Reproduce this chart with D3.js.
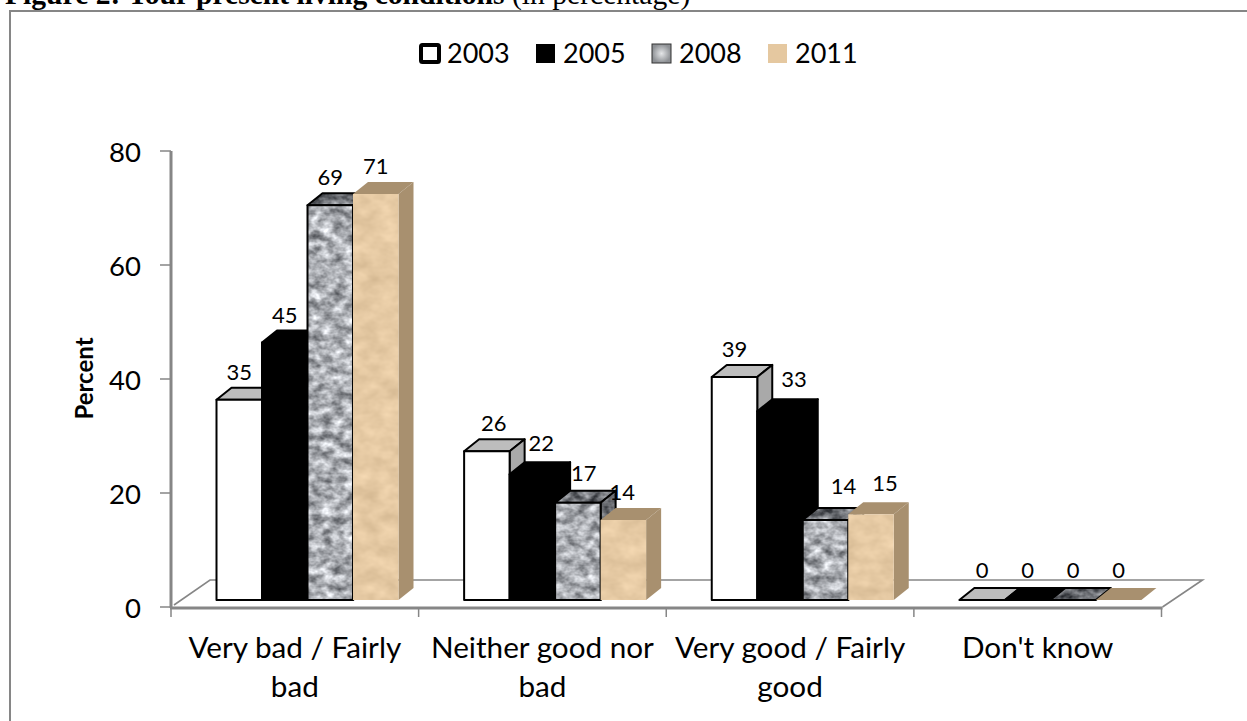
<!DOCTYPE html>
<html><head><meta charset="utf-8">
<script src="https://cdn.jsdelivr.net/npm/d3@7/dist/d3.min.js"></script>
<style>html,body{margin:0;padding:0;background:#fff;overflow:hidden}svg{display:block}text{font-family:Lato,sans-serif;fill:#000}</style>
</head><body><svg id="c" width="1247" height="721"></svg>
<script>
const categories = [["Very bad / Fairly","bad"],["Neither good nor","bad"],["Very good / Fairly","good"],["Don't know"]];
const years = ["2003","2005","2008","2011"];
const v2003 = [35,26,39,0];
const v2005 = [45,22,33,0];
const v2008 = [69,17,14,0];
const v2011 = [71,14,15,0];
const seriesValues = [v2003,v2005,v2008,v2011];
const yTicks = [0,20,40,60,80];
const labelNudgeX = [[0,0,0,0],[7,9,6,-1],[0,14,18,14],[0,0,0,0]];
const labelNudgeY = [[0,0,0,0],[0,-3,-2,0],[0,-4,-6,-3],[-2,-2,-2,-2]];

const svg = d3.select("#c");
const GREY = "#868686";
const defs = svg.append("defs");
function marble(id, a, b, rgb, freq){
  const f = defs.append("filter").attr("id",id).attr("x",0).attr("y",0).attr("width",1).attr("height",1)
    .attr("color-interpolation-filters","sRGB");
  f.append("feTurbulence").attr("type","fractalNoise").attr("baseFrequency",freq).attr("numOctaves",3).attr("seed",7);
  f.append("feColorMatrix").attr("type","matrix").attr("values",
    `${a} 0 0 0 ${b+rgb[0]}  ${a} 0 0 0 ${b+rgb[1]}  ${a} 0 0 0 ${b+rgb[2]}  0 0 0 0 1`);
  f.append("feComposite").attr("in2","SourceGraphic").attr("operator","in");
}
marble("tex",0.95,0.2,[0,0.01,0.03],"0.09 0.12");
marble("texDark",0.9,-0.03,[0,0.01,0.03],"0.09 0.12");
marble("tan",0.16,0.0,[0.82,0.71,0.56],"0.05 0.07");
const grad = defs.append("radialGradient").attr("id","legTex");
grad.append("stop").attr("offset","0").attr("stop-color","#e4e6e8");
grad.append("stop").attr("offset","1").attr("stop-color","#8d9094");

// scales
const x = d3.scaleBand().domain(d3.range(categories.length)).range([171,1161.5]);
const sub = d3.scaleBand().domain(d3.range(years.length)).range([45.5,227.5]);
const yAxis = d3.scaleLinear().domain([0,80]).range([607,151]);
const yFront = d3.scaleLinear().domain([0,80]).range([600,142.4]);
const depthX = 15, depthY = 12;

const styles = [
 {front:"#fff", top:"#bdbdbd", side:"#a9a9a9", stroke:"#000"},
 {front:"#000", top:"#000", side:"#000", stroke:"#000"},
 {front:"#a5a8ab", top:"#6f7276", side:"#6f7276", stroke:"#000", ff:"url(#tex)", fs:"url(#texDark)"},
 {front:"#e5c8a0", top:"#a8906f", side:"#a8906f", stroke:"none", ff:"url(#tan)"}
];

// floor
const floorG = svg.append("g").attr("fill","none").attr("stroke",GREY);
const x0 = x.range()[0], x1 = x.range()[1], y0 = yAxis(0);
floorG.append("path").attr("stroke-width",1.6).attr("d",d3.line()([[x0+3,y0-2],[x0+39,y0-27],[x1+41,y0-27],[x1+1,y0]]));

// frame
svg.append("path").attr("fill","none").attr("stroke",GREY).attr("stroke-width",2)
  .attr("d","M10,721V11H1247");

// axes
const axG = svg.append("g").attr("stroke",GREY).attr("fill","none");
axG.append("line").attr("x1",x0).attr("x2",x0).attr("y1",yAxis(80)).attr("y2",y0+1).attr("stroke-width",3);
axG.append("line").attr("x1",x0-1).attr("x2",x1+1).attr("y1",y0+1).attr("y2",y0+1).attr("stroke-width",3);
axG.selectAll(".yt").data(yTicks).join("line").attr("x1",x0-11).attr("x2",x0).attr("y1",d=>yAxis(d)).attr("y2",d=>yAxis(d)).attr("stroke-width",1.5);
const xTickPos = d3.range(categories.length).map(i=>x(i)).concat([x1]);
axG.selectAll(".xt").data(xTickPos).join("line").attr("x1",d=>d).attr("x2",d=>d).attr("y1",y0).attr("y2",y0+10).attr("stroke-width",1.5);

svg.selectAll(".ylab").data(yTicks).join("text").attr("x",141).attr("y",d=>yAxis(d)+10.5)
  .attr("text-anchor","end").attr("font-size",27.5).text(d=>d);

svg.append("text").attr("transform","translate(92.5,378.5) rotate(-90)").attr("text-anchor","middle")
  .attr("font-size",24).attr("font-weight",700).text("Percent");

// category labels
categories.forEach((lines,i)=>{
  lines.forEach((t,j)=>svg.append("text").attr("x",x(i)+x.bandwidth()/2).attr("y",658+j*39)
    .attr("text-anchor","middle").attr("font-size",29.7).text(t));
});

// bars
const line = d3.line();
categories.forEach((c,ci)=>{
  seriesValues.forEach((vals,si)=>{
    const st = styles[si], v = vals[ci];
    const l = x(ci)+sub(si), r = l+sub.bandwidth(), t = yFront(v), b = yFront(0);
    const g = svg.append("g").attr("stroke-linejoin","round");
    const topP = [[l,t],[l+depthX,t-depthY],[r+depthX,t-depthY],[r,t]];
    const sideP = [[r,t],[r+depthX,t-depthY],[r+depthX,b-depthY],[r,b]];
    const edge = st.stroke==="none"?null:st.stroke;
    const poly = (pts,fill,filter)=>{
      const d = line(pts)+"Z";
      const p = g.append("path").attr("d",d).attr("fill",fill);
      if(filter) p.attr("filter",filter);
      if(edge) g.append("path").attr("d",d).attr("fill","none").attr("stroke",edge).attr("stroke-width",2);
    };
    poly(topP,st.top,st.fs);
    if(v>0){
      poly(sideP,st.side,st.fs);
      poly([[l,t],[r,t],[r,b],[l,b]],st.front,st.ff);
    }
  });
});

// data labels
seriesValues.forEach((vals,si)=>{
  vals.forEach((v,ci)=>{
    svg.append("text").attr("x",x(ci)+sub(si)+sub.bandwidth()/2+labelNudgeX[ci][si])
      .attr("y",yFront(v)-20+labelNudgeY[ci][si]).attr("text-anchor","middle").attr("font-size",22).text(v);
  });
});

// legend
const legX = d3.scalePoint().domain(years).range([420,768]);
years.forEach((yr,i)=>{
  const lx = legX(yr);
  const r = svg.append("rect");
  if(i===0) r.attr("x",lx+1).attr("y",45).attr("width",18).attr("height",17).attr("rx",1.5).attr("fill","#fff").attr("stroke","#000").attr("stroke-width",4);
  else r.attr("x",lx).attr("y",44).attr("width",19).attr("height",19)
    .attr("fill",i===2?"url(#legTex)":styles[i].front)
    .attr("stroke",i===3?"none":"#333").attr("stroke-width",i===2?1:0);
  svg.append("text").attr("x",lx+27).attr("y",63).attr("font-size",27).text(yr);
});

// heading
const h = svg.append("text").attr("x",5).attr("y",4).attr("font-size",29.6).style("font-family","'Liberation Serif',serif");
h.append("tspan").attr("font-weight",700).text("Figure 2: Your present living conditions");
h.append("tspan").text(" (in percentage)");
</script></body></html>
